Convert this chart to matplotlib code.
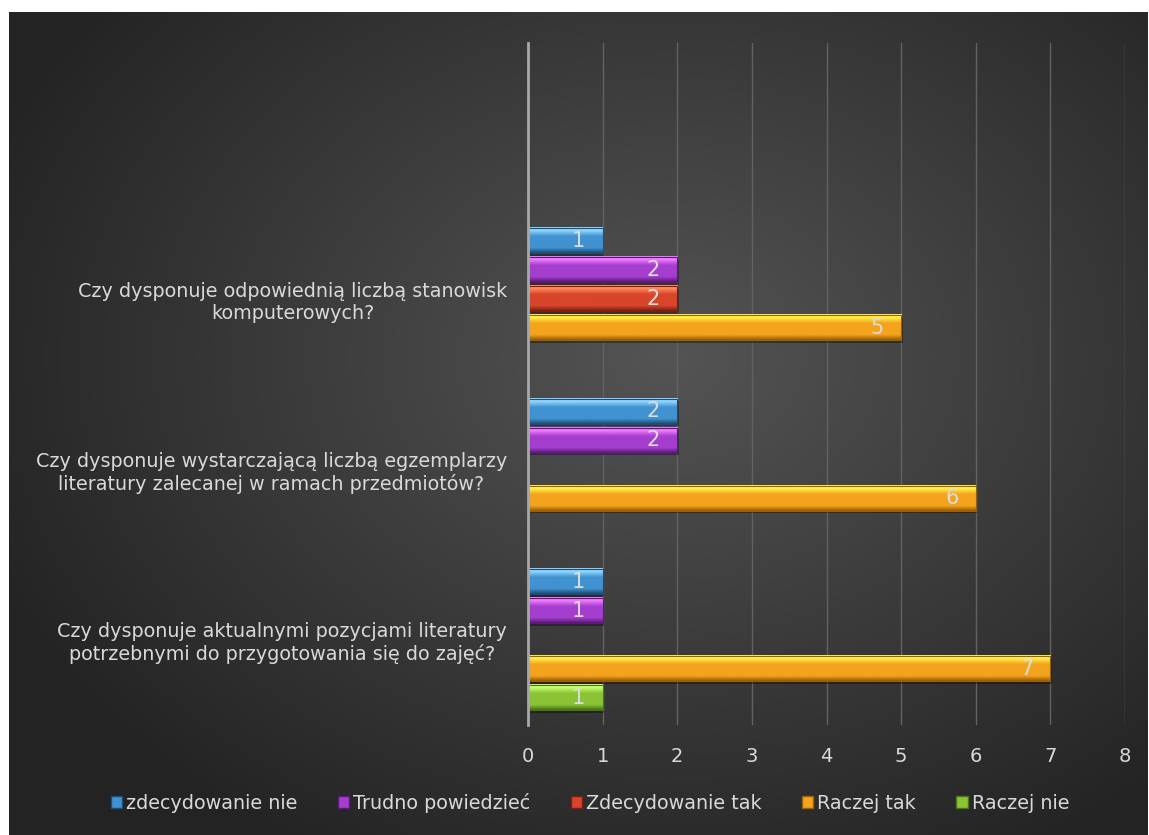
import numpy as np
import matplotlib
matplotlib.use("Agg")
import matplotlib.pyplot as plt
from matplotlib.patches import Patch
from matplotlib.colors import LinearSegmentedColormap

plt.rcParams["font.family"] = ["DejaVu Sans"]

# categories bottom -> top
categories = [
    "Czy dysponuje aktualnymi pozycjami literatury\npotrzebnymi do przygotowania się do zajęć?",
    "Czy dysponuje wystarczającą liczbą egzemplarzy\nliteratury zalecanej w ramach przedmiotów?",
    "Czy dysponuje odpowiednią liczbą stanowisk\nkomputerowych?",
]
series_names = ["zdecydowanie nie", "Trudno powiedzieć", "Zdecydowanie tak", "Raczej tak", "Raczej nie"]
zdecydowanie_nie = [1, 2, 1]
trudno_powiedziec = [1, 2, 2]
zdecydowanie_tak = [0, 0, 2]
raczej_tak = [7, 6, 5]
raczej_nie = [1, 0, 0]
values = [zdecydowanie_nie, trudno_powiedziec, zdecydowanie_tak, raczej_tak, raczej_nie]

colors = ["#4192d0", "#a53ecf", "#d8452b", "#f4a31d", "#8ac436"]
lights = ["#8fd6ff", "#f07cff", "#ff8a5c", "#fff04a", "#c8ff70"]
darks = ["#1d4e78", "#5c1a78", "#7a2012", "#9a5f08", "#4a7418"]

W, H = 1149, 835
fig = plt.figure(figsize=(W / 100, H / 100), dpi=100)
fig.patch.set_facecolor("white")

# background with radial gradient
bg = fig.add_axes([9 / W, 0, 1139 / W, 823 / H])
yy, xx = np.mgrid[0:1:300j, 0:1:400j]
r = np.sqrt(((xx - 0.58) / 0.75) ** 2 + ((yy - 0.42) / 0.8) ** 2)
g = np.clip(0.33 - 0.22 * r, 0.14, 0.33)
bg.imshow(np.dstack([g, g, g]), aspect="auto", extent=[0, 1, 0, 1], origin="upper")
bg.axis("off")

ax = fig.add_axes([528 / W, (H - 725) / H, (1125 - 528) / W, (725 - 43) / H])
ax.set_facecolor("none")

slot = 0.17
h = 0.148
offsets = [2 * slot, slot, 0, -slot, -2 * slot]
ypos = np.arange(len(categories))
grad = np.linspace(0, 1, 40).reshape(-1, 1)

for vals, off, c, lc, dc in zip(values, offsets, colors, lights, darks):
    cmap = LinearSegmentedColormap.from_list("b", [(0, lc), (0.12, lc), (0.35, c), (0.8, c), (1, dc)])
    for y, v in zip(ypos, vals):
        if v <= 0:
            continue
        yc = y + off
        ax.barh(yc - 0.014, v, left=0.02, height=h, color="black", alpha=0.35, linewidth=0, zorder=2)
        ax.imshow(grad, cmap=cmap, aspect="auto", origin="upper",
                  extent=[0, v, yc - h / 2, yc + h / 2], zorder=3)
        ax.barh(yc, v, height=h, facecolor="none", edgecolor=dc, linewidth=0.8, zorder=4)
        ax.text(v - 0.32, yc, str(v), ha="center", va="center", color="#dcdcdc", fontsize=15, zorder=5)

ax.set_xlim(0, 8)
ax.set_ylim(-0.5, 3.5)
ax.set_xticks(range(0, 9))
ax.xaxis.grid(True, color="#626262", linewidth=1.0, zorder=0)
ax.set_axisbelow(True)
ax.set_yticks(ypos)
ax.set_yticklabels(categories, multialignment="center")
ax.tick_params(axis="y", length=0, pad=15, labelsize=13.8, colors="#d9d9d9")
ax.tick_params(axis="x", length=0, pad=16, labelsize=14, colors="#d9d9d9")
for s in ["top", "right", "bottom"]:
    ax.spines[s].set_visible(False)
ax.spines["left"].set_color("#a8a8a8")
ax.spines["left"].set_linewidth(2)
ax.spines["left"].set_zorder(6)

handles = [Patch(facecolor=c, edgecolor=dc) for c, dc in zip(colors, darks)]
fig.legend(handles, series_names, loc="center", bbox_to_anchor=(590 / W, (H - 803) / H),
           ncol=5, frameon=False, fontsize=13.8, labelcolor="#d9d9d9",
           handlelength=0.6, handleheight=0.6, handletextpad=0.2, columnspacing=2.1)

fig.savefig("out.png", dpi=100, facecolor=fig.get_facecolor())
